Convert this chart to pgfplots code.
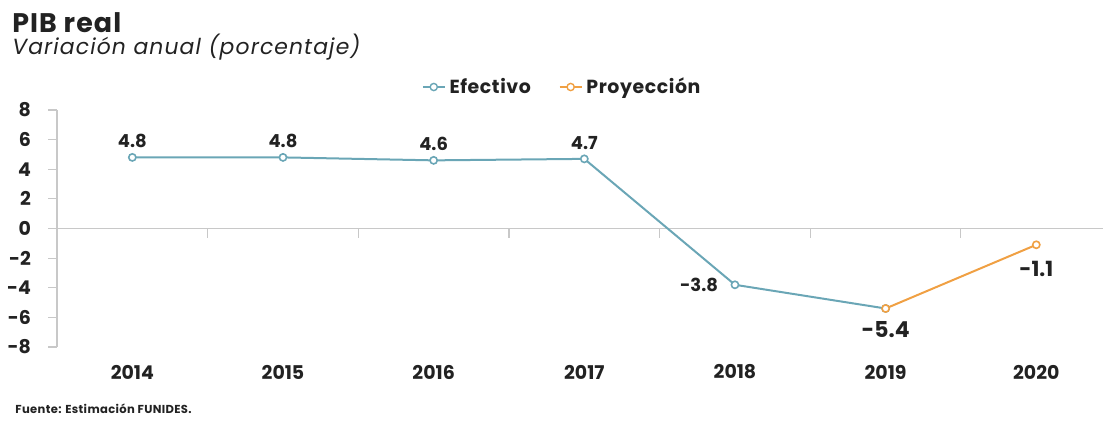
\documentclass[border=0pt]{standalone}
\usepackage{fontspec}
\setmainfont{Poppins}
\usepackage{pgfplots}
\pgfplotsset{compat=1.18}
\definecolor{cblue}{HTML}{6AA6B6}
\definecolor{corange}{HTML}{F0A043}
\definecolor{gline}{HTML}{C8C8C8}
\definecolor{txt}{HTML}{222222}
\begin{document}
\begin{tikzpicture}[x=1bp,y=1bp]
\path[use as bounding box] (0,0) rectangle (551.5,210);
\node[anchor=base west,inner sep=0,text=txt,font=\fontsize{13.5}{16}\selectfont\bfseries\addfontfeatures{LetterSpace=4}] at (6,194) {PIB real};
\node[anchor=base west,inner sep=0,text=txt,font=\fontsize{11}{13}\selectfont\itshape\addfontfeatures{LetterSpace=5}] at (6,183) {Variación anual (porcentaje)};
\node[anchor=base west,inner sep=0,text=txt,font=\fontsize{5.8}{7}\selectfont\bfseries\addfontfeatures{LetterSpace=3}] at (7.5,3.5) {Fuente: Estimación FUNIDES.};
\begin{axis}[
  at={(28.5bp,36.5bp)}, anchor=south west,
  scale only axis, width=527.3bp, height=118.5bp,
  xmin=2013.5, xmax=2020.5, ymin=-8, ymax=8,
  axis y line*=left, axis x line*=middle,
  axis line style={gline, line width=0.6bp},
  ytick={-8,-6,...,8},
  xtick={2013.5,2014.5,...,2019.5}, xticklabels={},
  tick align=outside, major tick length=4.5bp,
  tick style={gline, line width=0.6bp},
  /pgf/number format/assume math mode=true,
  yticklabel style={font=\fontsize{9.5}{10}\selectfont\bfseries, text=txt, xshift=-5bp},
  clip=false,
  legend columns=2,
  legend style={draw=none, fill=none, at={(0.48,1.097)}, anchor=center,
    font=\fontsize{9.5}{10}\selectfont\bfseries\addfontfeatures{LetterSpace=3}, text=txt,
    /tikz/every even column/.append style={column sep=12bp}},
  legend image code/.code={\draw[#1, line width=0.8bp] (0bp,0bp) -- (11bp,0bp); \draw[#1, fill=white, line width=0.7bp] (5.5bp,0bp) circle (1.8bp);},
]
\addplot[cblue, line width=1bp, mark=*, mark options={fill=white, line width=0.8bp}, mark size=1.8bp] coordinates {
(2014,4.8) (2015,4.8) (2016,4.6) (2017,4.7) (2018,-3.8) (2019,-5.4)};
\addlegendentry{Efectivo}
\addplot[corange, line width=1bp, mark=*, mark options={fill=white, line width=0.8bp}, mark size=1.8bp] coordinates {
(2019,-5.4) (2020,-1.1)};
\addlegendentry{Proyección}
\foreach \yr in {2014,...,2020} {
  \edef\tmp{\noexpand\node[font=\noexpand\fontsize{9.5}{10}\noexpand\selectfont\noexpand\bfseries, text=txt] at (axis cs:\yr,-8) [yshift=-12.5bp] {\yr};}
  \tmp
}
\node[font=\fontsize{9}{10}\selectfont\bfseries, text=txt] at (axis cs:2014,4.8) [yshift=8bp] {4.8};
\node[font=\fontsize{9}{10}\selectfont\bfseries, text=txt] at (axis cs:2015,4.8) [yshift=8bp] {4.8};
\node[font=\fontsize{9}{10}\selectfont\bfseries, text=txt] at (axis cs:2016,4.6) [yshift=8bp] {4.6};
\node[font=\fontsize{9}{10}\selectfont\bfseries, text=txt] at (axis cs:2017,4.7) [yshift=8bp] {4.7};
\node[font=\fontsize{9}{10}\selectfont\bfseries, text=txt] at (axis cs:2018,-3.8) [xshift=-18bp] {-3.8};
\node[font=\fontsize{11}{12}\selectfont\bfseries, text=txt] at (axis cs:2019,-5.4) [yshift=-10.5bp] {-5.4};
\node[font=\fontsize{10.5}{12}\selectfont\bfseries, text=txt] at (axis cs:2020,-1.1) [yshift=-12bp] {-1.1};
\end{axis}
\end{tikzpicture}
\end{document}
